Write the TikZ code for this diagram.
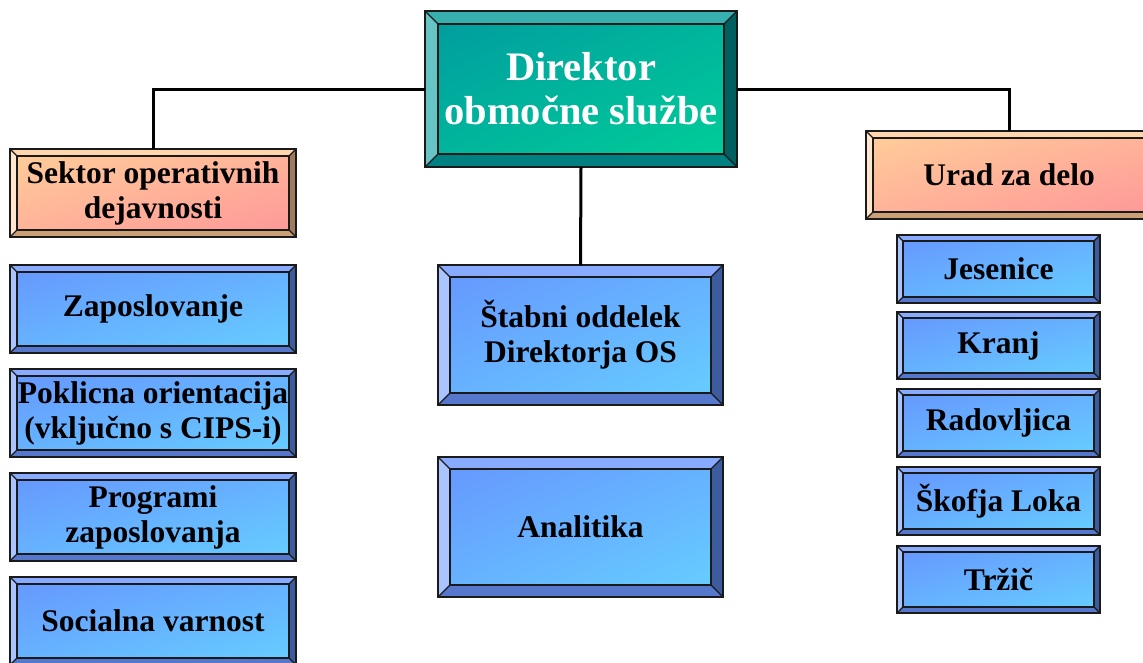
\documentclass[tikz,border=0pt]{standalone}
\usepackage{fontspec}
\setmainfont{Liberation Serif}
\usetikzlibrary{shadings}
\definecolor{tFaceA}{HTML}{009E9E}\definecolor{tFaceB}{HTML}{00CC99}\definecolor{tFaceM}{HTML}{00B59C}
\definecolor{tTop}{HTML}{38AFAF}\definecolor{tLeft}{HTML}{66C4C4}\definecolor{tRight}{HTML}{005F5F}\definecolor{tBot}{HTML}{008080}
\definecolor{oFaceA}{HTML}{FFCC99}\definecolor{oFaceB}{HTML}{FF9999}\definecolor{oFaceM}{HTML}{FFB399}
\definecolor{oTop}{HTML}{FFD6AE}\definecolor{oLeft}{HTML}{FFE6CC}\definecolor{oRight}{HTML}{9E7B5A}\definecolor{oBot}{HTML}{CCA077}
\definecolor{bFaceA}{HTML}{6699FF}\definecolor{bFaceB}{HTML}{66CCFF}\definecolor{bFaceM}{HTML}{66B2FF}
\definecolor{bTop}{HTML}{88AAFF}\definecolor{bLeft}{HTML}{AAC4FF}\definecolor{bRight}{HTML}{3D5C9E}\definecolor{bBot}{HTML}{5577CC}
\definecolor{edge}{HTML}{1A1A1A}
\tikzset{
  edgeline/.style={draw=edge, line width=1.1pt, line join=miter},
  conn/.style={draw=black, line width=3pt},
  lbl/.style={inner sep=0pt, align=center, font=\fontsize{31.5}{35}\selectfont\bfseries, text=black},
  biglbl/.style={inner sep=0pt, align=center, font=\fontsize{40.5}{44}\selectfont\bfseries, text=white},
}
% #1 name, #2 x1, #3 y1, #4 x2, #5 y2, #6 bevel, #7 scheme (t/o/b), #8 label style, #9 text
\newcommand\bevbox[9]{%
  \fill[#7Top] (#2,#3) -- (#4,#3) -- ({#4-#6},{#3+#6}) -- ({#2+#6},{#3+#6}) -- cycle;
  \fill[#7Left] (#2,#3) -- ({#2+#6},{#3+#6}) -- ({#2+#6},{#5-#6}) -- (#2,#5) -- cycle;
  \fill[#7Right] (#4,#3) -- (#4,#5) -- ({#4-#6},{#5-#6}) -- ({#4-#6},{#3+#6}) -- cycle;
  \fill[#7Bot] (#2,#5) -- ({#2+#6},{#5-#6}) -- ({#4-#6},{#5-#6}) -- (#4,#5) -- cycle;
  \shade[upper left=#7FaceA, lower right=#7FaceB, upper right=#7FaceM, lower left=#7FaceM]
    ({#2+#6},{#3+#6}) rectangle ({#4-#6},{#5-#6});
  \draw[edgeline] (#2,#3) rectangle (#4,#5);
  \draw[edgeline] ({#2+#6},{#3+#6}) rectangle ({#4-#6},{#5-#6});
  \draw[edgeline] (#2,#3) -- ({#2+#6},{#3+#6}) (#4,#3) -- ({#4-#6},{#3+#6})
    (#2,#5) -- ({#2+#6},{#5-#6}) (#4,#5) -- ({#4-#6},{#5-#6});
  \node[#8, minimum width={(#4-#2)*1pt}, minimum height={(#5-#3)*1pt}] (#1) at ({(#2+#4)/2},{(#3+#5)/2}) {#9};
}
\begin{document}
\begin{tikzpicture}[x=1pt,y=-1pt]
\useasboundingbox (0,0) rectangle (1143,662);
\clip (0,0) rectangle (1143,662);
\fill[white] (0,0) rectangle (1143,662);
% director
\bevbox{dir}{425}{11}{737}{167}{13}{t}{biglbl}{Direktor\\območne službe}
% left column
\bevbox{sek}{10}{149}{296}{237}{7}{o}{lbl}{Sektor operativnih\\dejavnosti}
\bevbox{zap}{10}{265}{296}{353}{7}{b}{lbl}{Zaposlovanje}
\bevbox{pok}{10}{369}{296}{457}{7}{b}{lbl}{Poklicna orientacija\\(vključno s CIPS-i)}
\bevbox{prog}{10}{473}{296}{561}{7}{b}{lbl}{Programi\\zaposlovanja}
\bevbox{soc}{10}{577}{296}{665}{7}{b}{lbl}{Socialna varnost}
% middle column
\bevbox{stab}{438}{265}{723}{405}{12}{b}{lbl}{Štabni oddelek\\Direktorja OS}
\bevbox{anal}{438}{457}{723}{597}{12}{b}{lbl}{Analitika}
% right column
\bevbox{urad}{866}{131}{1152}{219}{7}{o}{lbl}{Urad za delo}
\bevbox{jes}{897}{235}{1100}{303}{6}{b}{lbl}{Jesenice}
\bevbox{kra}{897}{312}{1100}{379}{6}{b}{lbl}{Kranj}
\bevbox{rad}{897}{389}{1100}{457}{6}{b}{lbl}{Radovljica}
\bevbox{sko}{897}{467}{1100}{535}{6}{b}{lbl}{Škofja Loka}
\bevbox{trz}{897}{546}{1100}{613}{6}{b}{lbl}{Tržič}
% connectors
\draw[conn] (dir.west) -| (sek.north);
\draw[conn] (dir.east) -| (urad.north);
\draw[conn] (dir.south) -- (stab.north);
\end{tikzpicture}
\end{document}
